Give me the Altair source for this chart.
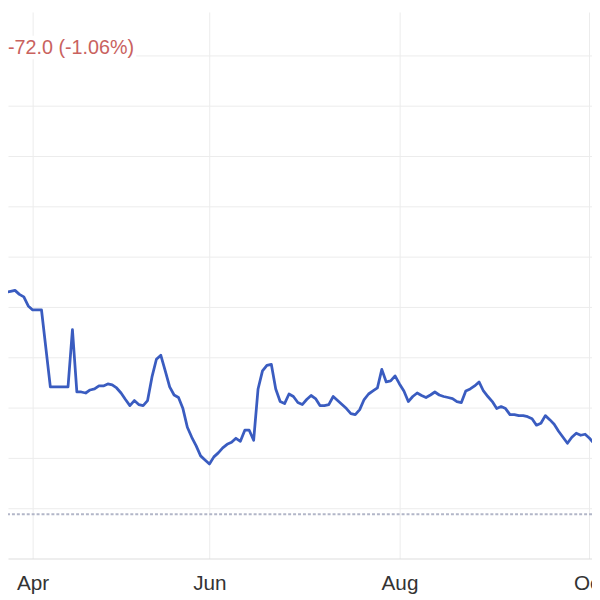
import altair as alt
import pandas as pd

# ---- data (x = trading session, 0 = first session of April) ----
sessions = [
    -7, -6, -5, -4, -3, -2, -1, 0, 1, 2,
    4, 5, 6, 7, 8, 9, 10, 11, 12, 13,
    14, 15, 16, 17, 18, 19, 20, 21, 22, 23,
    24, 25, 26, 27, 28, 29, 30, 31, 32, 33,
    34, 35, 36, 37, 38, 39, 40, 41, 42, 43,
    44, 45, 46, 47, 48, 49, 50, 51, 52, 53,
    54, 55, 56, 57, 58, 59, 60, 61, 62, 63,
    64, 65, 66, 67, 68, 69, 70, 71, 72, 73,
    74, 75, 76, 77, 78, 79, 80, 81, 82, 83,
    84, 85, 86, 87, 88, 89, 90, 91, 92, 93,
    94, 95, 96, 97, 98, 99, 100, 101, 102, 103,
    104, 105, 106, 107, 108, 109, 110, 111, 112, 113,
    114, 115, 116, 117, 118, 119, 120, 121, 122, 123,
    124, 125, 126, 127,
]
prices = [
    7010, 7029, 7031, 7033, 7025, 7020, 7002, 6994, 6994, 6994,
    6841, 6841, 6841, 6841, 6841, 6955, 6831, 6831, 6829, 6835,
    6837, 6843, 6843, 6847, 6845, 6839, 6829, 6816, 6804, 6814,
    6806, 6804, 6814, 6861, 6896, 6904, 6873, 6841, 6825, 6820,
    6798, 6761, 6741, 6724, 6704, 6696, 6688, 6702, 6710, 6720,
    6727, 6731, 6739, 6733, 6755, 6755, 6735, 6837, 6873, 6884,
    6886, 6837, 6812, 6808, 6827, 6822, 6810, 6806, 6816, 6824,
    6818, 6804, 6804, 6806, 6822, 6814, 6806, 6798, 6788, 6786,
    6796, 6816, 6827, 6833, 6839, 6876, 6851, 6853, 6863, 6847,
    6833, 6812, 6822, 6829, 6824, 6820, 6825, 6831, 6825, 6822,
    6820, 6818, 6812, 6810, 6833, 6837, 6843, 6851, 6833, 6822,
    6812, 6798, 6802, 6798, 6786, 6786, 6784, 6784, 6782, 6778,
    6765, 6769, 6784, 6776, 6767, 6753, 6741, 6729, 6741, 6749,
    6745, 6747, 6739, 6729,
]
month_sessions = [0, 40, 83, 126]
month_labels = ["Apr", "Jun", "Aug", "Oct"]
grid_levels = [6600, 6700, 6800, 6900, 7000, 7100, 7200, 7300, 7400, 7500]
reference_level = [6588]
change_label = ["-72.0 (-1.06%)"]

df = pd.DataFrame({"session": sessions, "price": prices})
ref_df = pd.DataFrame({"level": reference_level})
lab_df = pd.DataFrame({"label": change_label})

label_expr = " : ".join(
    f"datum.value == {s} ? '{m}'" for s, m in zip(month_sessions, month_labels)
) + " : ''"

x_scale = alt.Scale(domain=[-5.58, 126.56], nice=False, zero=False)
y_scale = alt.Scale(domain=[6500, 7586.3], nice=False, zero=False)

FONT = "Liberation Sans"

line = alt.Chart(df).mark_line(color="#3a5cc0", strokeWidth=2.8, strokeJoin="round").encode(
    x=alt.X("session:Q", scale=x_scale,
            axis=alt.Axis(values=month_sessions, labelExpr=label_expr, title=None, ticks=False,
                          labelFontSize=21, labelFont=FONT, labelColor="#333333",
                          labelPadding=14, labelFlush=False, labelOverlap=False,
                          domainColor="#dcdcdc", gridColor="#ececec", grid=True)),
    y=alt.Y("price:Q", scale=y_scale,
            axis=alt.Axis(values=grid_levels, labels=False, ticks=False, domain=False,
                          title=None, gridColor="#ececec", grid=True)),
)

ref_rule = alt.Chart(ref_df).mark_rule(color="#b2b6c8", strokeWidth=2, strokeDash=[3, 2]).encode(
    y=alt.Y("level:Q", scale=y_scale)
)

label_bg = alt.Chart(lab_df).mark_rect(color="white").encode(
    x=alt.value(0), x2=alt.value(130), y=alt.value(24), y2=alt.value(48)
)

label = alt.Chart(lab_df).mark_text(
    align="left", baseline="alphabetic", font=FONT, fontSize=20, color="#c9625e"
).encode(x=alt.value(0), y=alt.value(43), text="label:N")

chart = alt.layer(ref_rule, label_bg, label, line).properties(
    width=592, height=554,
    autosize=alt.AutoSizeParams(type="none"),
    padding={"left": 0, "top": 0, "right": 0, "bottom": 38},
).configure_view(strokeWidth=0)

chart.save("out.html", embed_options={"renderer": "svg", "actions": False})
